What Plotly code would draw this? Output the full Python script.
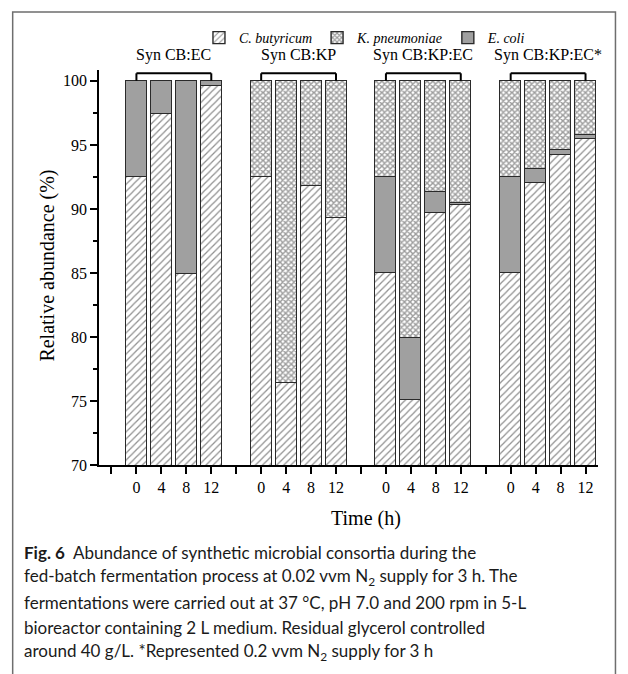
import plotly.graph_objects as go

groups = ["Syn CB:EC", "Syn CB:KP", "Syn CB:KP:EC", "Syn CB:KP:EC*"]
times = ["0", "4", "8", "12"]
cb_vals = [[92.5, 97.4, 84.9, 99.6],
           [92.5, 76.4, 91.8, 89.3],
           [85.0, 75.1, 89.7, 90.3],
           [85.0, 92.0, 94.2, 95.45]]
ec_vals = [[7.5, 2.6, 15.1, 0.4],
           [0.0, 0.0, 0.0, 0.0],
           [7.5, 4.8, 1.6, 0.2],
           [7.5, 1.1, 0.4, 0.3]]
kp_vals = [[0.0, 0.0, 0.0, 0.0],
           [7.5, 23.6, 8.2, 10.7],
           [7.5, 20.1, 8.7, 9.5],
           [7.5, 6.9, 5.4, 4.25]]

# page body has an 8px margin; work in window pixels and convert
OFF = 8
W, H = 628 - OFF, 674 - OFF
L, R = 98.5 - OFF, 598.5 - OFF
T, B = 70 - OFF, 465 - OFF
PW, PH = R - L, B - T

def px(x):
    return (x - OFF - L) / PW

def py(y):
    return (B - (y - OFF)) / PH

xs, tickvals, ticktext = [], [], []
for g in range(len(groups)):
    tickvals.append(g * 5)
    ticktext.append("")
    for t in range(len(times)):
        xs.append(g * 5 + 1 + t)
        tickvals.append(g * 5 + 1 + t)
        ticktext.append(times[t])

flat = lambda a: [v for row in a for v in row]
cb, ec, kp = flat(cb_vals), flat(ec_vals), flat(kp_vals)

line = dict(color="#2a2a2a", width=1.4)
serif = "Liberation Serif"

fig = go.Figure()
fig.add_trace(go.Bar(
    x=xs, y=cb, name="C. butyricum", width=0.84, legendrank=1,
    marker=dict(color="white", line=line,
                pattern=dict(shape="/", size=5, solidity=0.25, fgcolor="#222222", bgcolor="white"))))
fig.add_trace(go.Bar(
    x=xs, y=ec, name="E. coli", width=0.84, legendrank=3,
    marker=dict(color="#a0a0a0", line=line)))
fig.add_trace(go.Bar(
    x=xs, y=kp, name="K. pneumoniae", width=0.84, legendrank=2,
    marker=dict(color="white", line=line,
                pattern=dict(shape="x", size=4, solidity=0.6, fgcolor="#3a3a3a", bgcolor="white"))))

shapes = []
shapes.append(dict(type="rect", xref="paper", yref="paper",
                   x0=px(12), x1=px(616), y0=py(700), y1=py(12),
                   line=dict(color="#6e6e6e", width=1.5), fillcolor="rgba(0,0,0,0)", layer="below"))
annotations = []
for g, name in enumerate(groups):
    x0 = g * 5 + 1
    x1 = g * 5 + 4
    for xa in (x0, x1):
        shapes.append(dict(type="line", xref="x", yref="paper", x0=xa, x1=xa,
                           y0=py(80.7), y1=py(73.3), line=dict(color="black", width=2)))
    shapes.append(dict(type="line", xref="x", yref="paper", x0=x0, x1=x1,
                       y0=py(73.3), y1=py(73.3), line=dict(color="black", width=2)))
    annotations.append(dict(x=(x0 + x1) / 2, xref="x", y=py(55), yref="paper",
                            text=name, showarrow=False, xanchor="center", yanchor="middle",
                            font=dict(family=serif, size=16, color="black")))

annotations.append(dict(x=px(46), y=py(266), xref="paper", yref="paper",
                        text="Relative abundance (%)", textangle=-90, showarrow=False,
                        xanchor="center", yanchor="middle",
                        font=dict(family=serif, size=20, color="black")))
annotations.append(dict(x=px(366), y=py(518), xref="paper", yref="paper",
                        text="Time (h)", showarrow=False, xanchor="center", yanchor="middle",
                        font=dict(family=serif, size=20, color="black")))

caption = [
    "<b>Fig. 6</b>  Abundance of synthetic microbial consortia during the",
    "fed-batch fermentation process at 0.02 vvm N<sub>2</sub> supply for 3 h. The",
    "fermentations were carried out at 37 °C, pH 7.0 and 200 rpm in 5-L",
    "bioreactor containing 2 L medium. Residual glycerol controlled",
    "around 40 g/L. *Represented 0.2 vvm N<sub>2</sub> supply for 3 h",
]
for i, txt in enumerate(caption):
    annotations.append(dict(x=px(21), y=py(552 + 25 * i), xref="paper", yref="paper",
                            text=txt, showarrow=False, xanchor="left", yanchor="middle",
                            align="left",
                            font=dict(family="Lato", size=17, color="#1a1a1a")))

fig.update_layout(
    width=W, height=H,
    margin=dict(l=L, r=W - R, t=T, b=H - B, pad=0, autoexpand=False),
    paper_bgcolor="white", plot_bgcolor="white",
    barmode="stack", bargap=0,
    showlegend=True,
    legend=dict(orientation="h", x=px(365), xanchor="center", y=py(38), yanchor="middle",
                font=dict(family=serif, size=14, color="black", style="italic"),
                traceorder="normal", itemwidth=30, bgcolor="rgba(0,0,0,0)",
                tracegroupgap=0),
    shapes=shapes, annotations=annotations,
    xaxis=dict(range=[-0.5, 19.5], tickmode="array", tickvals=tickvals, ticktext=ticktext,
               showline=True, linecolor="black", linewidth=1.5, ticks="outside",
               ticklen=7, tickwidth=1.5, tickcolor="black", showgrid=False, zeroline=False,
               automargin=False,
               tickfont=dict(family=serif, size=16, color="black")),
    yaxis=dict(range=[70, 100.85], tickmode="array", tickvals=[70, 75, 80, 85, 90, 95, 100],
               showline=True, linecolor="black", linewidth=1.5, ticks="outside",
               ticklen=7, tickwidth=1.5, tickcolor="black", showgrid=False, zeroline=False,
               automargin=False,
               tickfont=dict(family=serif, size=16, color="black"),
               minor=dict(tickvals=[72.5, 77.5, 82.5, 87.5, 92.5, 97.5], ticks="outside",
                          ticklen=4, tickwidth=1.5, tickcolor="black")),
)

fig.write_html("out.html")
